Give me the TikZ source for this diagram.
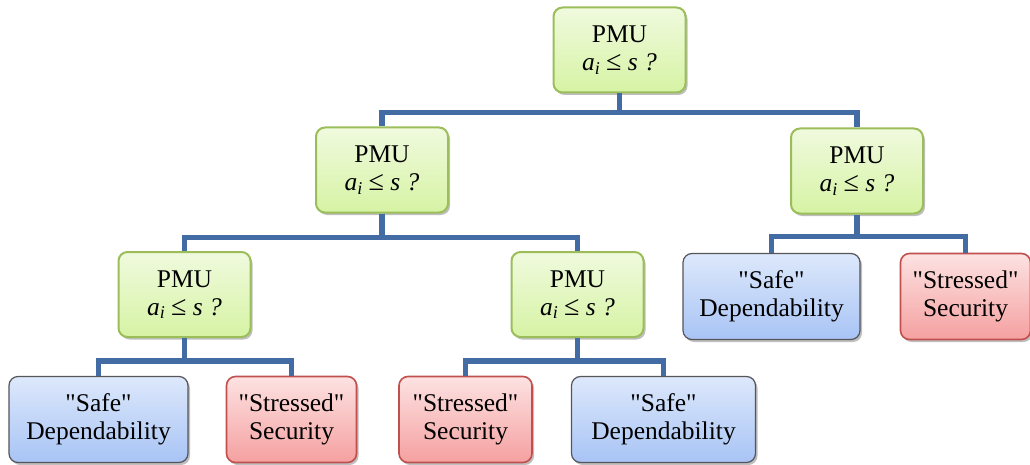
\documentclass[tikz,border=0pt]{standalone}
\usepackage{fontspec}
\setmainfont{Liberation Serif}[Ligatures=TeXOff]
\usetikzlibrary{shadows}
\definecolor{conncol}{RGB}{68,108,164}
\definecolor{gtop}{RGB}{240,250,222}
\definecolor{gbot}{RGB}{214,243,164}
\definecolor{gbord}{RGB}{155,190,90}
\definecolor{btop}{RGB}{221,232,251}
\definecolor{bbot}{RGB}{168,196,245}
\definecolor{bbord}{RGB}{85,85,90}
\definecolor{rtop}{RGB}{253,226,226}
\definecolor{rbot}{RGB}{245,160,160}
\definecolor{rbord}{RGB}{192,80,77}
\tikzset{
  boxbase/.style={rounded corners=9pt, align=center, inner sep=0pt,
    font=\fontsize{25.5}{28}\selectfont,
    drop shadow={shadow xshift=2pt, shadow yshift=-2.5pt, opacity=0.25, fill=black}},
  pmu/.style={boxbase, draw=gbord, line width=2pt, top color=gtop, bottom color=gbot,
    minimum width=132pt, minimum height=85pt},
  safe/.style={boxbase, draw=bbord, line width=1.2pt, top color=btop, bottom color=bbot,
    minimum height=86pt},
  stress/.style={boxbase, draw=rbord, line width=1.6pt, top color=rtop, bottom color=rbot,
    minimum width=130pt, minimum height=86pt},
  conn/.style={draw=conncol, line width=5.5pt}
}
\newcommand{\pmutext}{PMU\\{\itshape a}\raisebox{-0.3ex}{\fontsize{18}{18}\selectfont\itshape i} {\fontsize{28}{28}\selectfont ≤} {\itshape s ?}}
\begin{document}
\begin{tikzpicture}[x=1pt,y=-1pt]
\useasboundingbox (0,0) rectangle (1030,465);
\node[pmu] (root) at (619.5,50) {\pmutext};
\node[pmu] (l1l) at (382,170) {\pmutext};
\node[pmu] (l1r) at (857,171) {\pmutext};
\node[pmu] (l2l) at (184.5,294.5) {\pmutext};
\node[pmu] (l2m) at (577.5,294.5) {\pmutext};
\node[safe, minimum width=177pt] (rsafe) at (771.5,296.5) {"Safe"\\Dependability};
\node[stress] (rstress) at (965.5,296.5) {"Stressed"\\Security};
\node[safe, minimum width=179pt] (bsafe1) at (98.5,419.5) {"Safe"\\Dependability};
\node[stress] (bstress1) at (291.5,419.5) {"Stressed"\\Security};
\node[stress, minimum width=133pt] (bstress2) at (465.5,419.5) {"Stressed"\\Security};
\node[safe, minimum width=184pt] (bsafe2) at (663.5,419.5) {"Safe"\\Dependability};
\draw[conn] (root.south) -- ++(0,19) coordinate (h0) -| (l1l.north);
\draw[conn] (h0) -| (l1r.north);
\draw[conn] (l1l.south) -- ++(0,24) coordinate (h1) -| (l2l.north);
\draw[conn] (h1) -| (l2m.north);
\draw[conn] (l1r.south) -- ++(0,22) coordinate (h2) -| (rsafe.north);
\draw[conn] (h2) -| (rstress.north);
\draw[conn] (l2l.south) -- ++(0,23) coordinate (h3) -| (bsafe1.north);
\draw[conn] (h3) -| (bstress1.north);
\draw[conn] (l2m.south) -- ++(0,23) coordinate (h4) -| (bstress2.north);
\draw[conn] (h4) -| (bsafe2.north);
\end{tikzpicture}
\end{document}
